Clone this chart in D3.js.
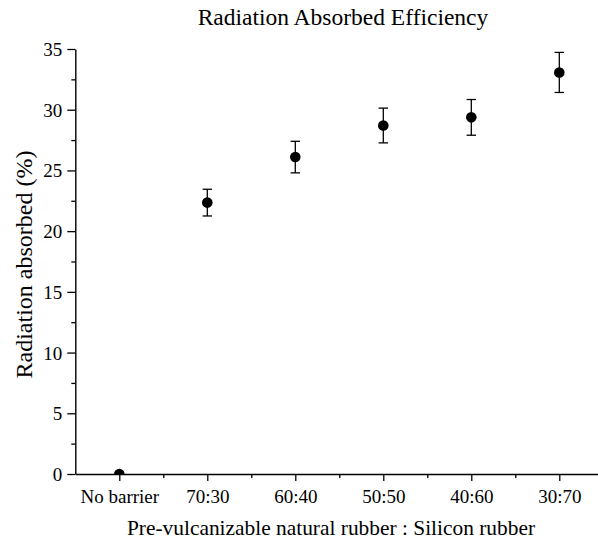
<!DOCTYPE html>
<html>
<head>
<meta charset="utf-8">
<script src="https://cdn.jsdelivr.net/npm/d3@7"></script>
<style>
  html, body { margin: 0; padding: 0; background: #fff; }
  svg { display: block; }
</style>
</head>
<body>
<svg id="chart" width="598" height="542"></svg>
<script>
const categories = ["No barrier", "70:30", "60:40", "50:50", "40:60", "30:70"];
const values = [0, 22.35, 26.1, 28.7, 29.37, 33.07];
const errors = [0, 1.1, 1.3, 1.43, 1.47, 1.65];
const yTicks = [0, 5, 10, 15, 20, 25, 30, 35];
const yMinorTicks = [2.5, 7.5, 12.5, 17.5, 22.5, 27.5, 32.5];
const title = "Radiation Absorbed Efficiency";
const xTitle = "Pre-vulcanizable natural rubber : Silicon rubber";
const yTitle = "Radiation absorbed (%)";

const FONT = "'Liberation Serif'";

const svg = d3.select("#chart").attr("font-family", FONT);
const x = d3.scaleLinear().domain([-0.5, 5.5]).range([75.3, 603.3]);
const y = d3.scaleLinear().domain([0, 35]).range([474, 49]);

svg.append("defs").append("clipPath").attr("id", "plotclip")
  .append("rect").attr("x", x(-0.5)).attr("y", 0)
  .attr("width", 598 - x(-0.5)).attr("height", y(0));

const idx = categories.map((d, i) => i);
const xMinor = idx.map(i => i + 0.5);

// minor ticks x
svg.append("g").attr("transform", `translate(0,${y(0)})`)
  .call(d3.axisBottom(x).tickValues(xMinor).tickSize(4).tickFormat(""))
  .call(g => g.select(".domain").remove())
  .selectAll("line").attr("stroke-width", 1.3);
// minor ticks y
svg.append("g").attr("transform", `translate(${x(-0.5)},0)`)
  .call(d3.axisLeft(y).tickValues(yMinorTicks).tickSize(4).tickFormat(""))
  .call(g => g.select(".domain").remove())
  .selectAll("line").attr("stroke-width", 1.3);

// error bars
const eb = svg.append("g");
categories.forEach((c, i) => {
  if (errors[i] <= 0) return;
  const cx = x(i), y1 = y(values[i] + errors[i]), y2 = y(values[i] - errors[i]);
  eb.append("line").attr("x1", cx).attr("x2", cx).attr("y1", y1).attr("y2", y2)
    .attr("stroke", "#000").attr("stroke-width", 1.3);
  [y1, y2].forEach(yy => eb.append("line").attr("x1", cx - 4.7).attr("x2", cx + 4.7)
    .attr("y1", yy).attr("y2", yy).attr("stroke", "#000").attr("stroke-width", 1.3));
});

// points (clipped to plot area)
svg.append("g").attr("clip-path", "url(#plotclip)")
  .selectAll("circle").data(values).join("circle")
  .attr("cx", (d, i) => x(i)).attr("cy", d => y(d)).attr("r", 5.3).attr("fill", "#000");

// major x axis
const gx = svg.append("g").attr("transform", `translate(0,${y(0)})`)
  .call(d3.axisBottom(x).tickValues(idx).tickSize(7).tickSizeOuter(0)
    .tickFormat(i => categories[i]));
gx.attr("font-family", FONT).attr("font-size", 19);
gx.select(".domain").attr("stroke-width", 1.4);
gx.selectAll(".tick line").attr("stroke-width", 1.3);
gx.selectAll(".tick text").attr("dy", 0).attr("y", 29).attr("font-family", FONT);

// major y axis
const gy = svg.append("g").attr("transform", `translate(${x(-0.5)},0)`)
  .call(d3.axisLeft(y).tickValues(yTicks).tickSize(8).tickSizeOuter(0));
gy.attr("font-family", FONT).attr("font-size", 19);
gy.select(".domain").attr("stroke-width", 1.4);
gy.selectAll(".tick line").attr("stroke-width", 1.3);
gy.selectAll(".tick text").attr("x", -13).attr("dy", "0.34em").attr("font-family", FONT);

// titles
svg.append("text").attr("x", 343).attr("y", 25).attr("text-anchor", "middle")
  .attr("font-family", FONT).attr("font-size", 23.5).attr("fill", "#000").text(title);
svg.append("text").attr("x", 331).attr("y", 535).attr("text-anchor", "middle")
  .attr("font-family", FONT).attr("font-size", 21.4).attr("fill", "#000").text(xTitle);
svg.append("text").attr("transform", "translate(32,264.5) rotate(-90)")
  .attr("text-anchor", "middle").attr("font-family", FONT).attr("font-size", 24)
  .attr("fill", "#000").text(yTitle);
</script>
</body>
</html>
